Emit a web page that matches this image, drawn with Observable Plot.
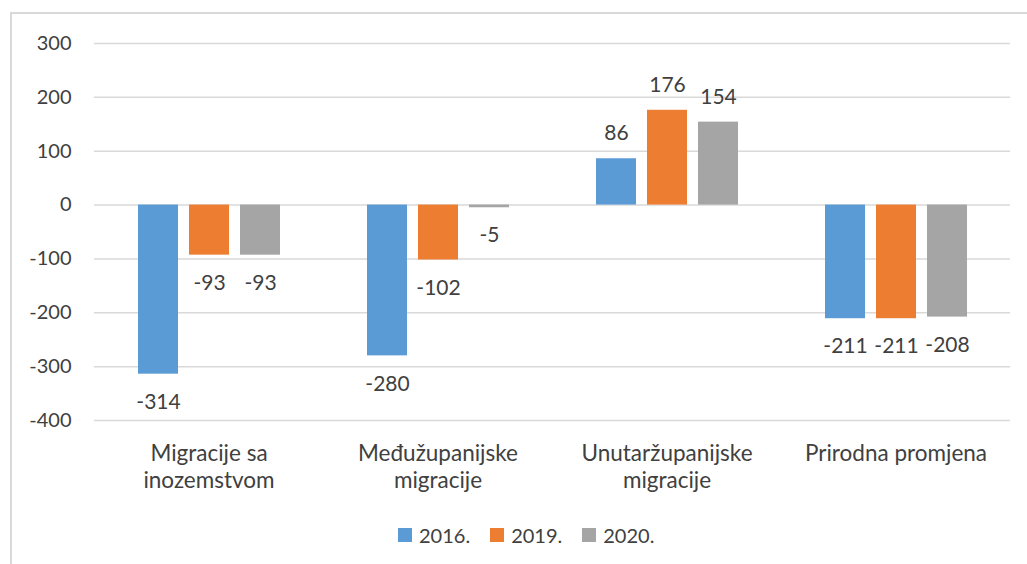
<!DOCTYPE html>
<html>
<head>
<meta charset="utf-8">
<script src="https://cdn.jsdelivr.net/npm/d3@7"></script>
<script src="https://cdn.jsdelivr.net/npm/@observablehq/plot@0.6"></script>
<style>
  html, body { margin: 0; padding: 0; background: #ffffff; }
  body { width: 1027px; height: 564px; position: relative; overflow: hidden; font-family: Lato, sans-serif; }
  #frame { position: absolute; left: 10px; top: 12px; width: 1100px; height: 700px;
           border-left: 2px solid #d9d9d9; border-top: 2px solid #d9d9d9; box-sizing: border-box; }
  #chart { position: absolute; left: 0; top: 0; }
  #legend { position: absolute; left: 398px; top: 520px; height: 30px; display: flex; align-items: center;
            font-size: 20px; color: #404040; }
  .item { display: flex; align-items: center; margin-right: 20px; }
  .sw { width: 14px; height: 14px; margin-right: 7px; }
</style>
</head>
<body>
<div id="frame"></div>
<div id="chart"></div>
<div id="legend"></div>
<script>
const categories = ["Migracije sa inozemstvom", "Međužupanijske migracije", "Unutaržupanijske migracije", "Prirodna promjena"];
const categoryLabels = ["Migracije sa\ninozemstvom", "Međužupanijske\nmigracije", "Unutaržupanijske\nmigracije", "Prirodna promjena"];
const years = ["2016.", "2019.", "2020."];
const values2016 = [-314, -280, 86, -211];
const values2019 = [-93, -102, 176, -211];
const values2020 = [-93, -5, 154, -208];
const colors = ["#5B9BD5", "#ED7D31", "#A5A5A5"];
const yTicks = [300, 200, 100, 0, -100, -200, -300, -400];

const series = [values2016, values2019, values2020];
const data = categories.flatMap((c, i) => years.map((y, j) => ({category: c, year: y, value: series[j][i]})));

const chart = Plot.plot({
  width: 1027,
  height: 510,
  marginLeft: 94,
  marginRight: 17,
  marginTop: 43,
  marginBottom: 90,
  style: {fontFamily: "Lato, sans-serif", color: "#404040", background: "transparent"},
  fx: {domain: categories, padding: 0},
  x: {domain: years, paddingInner: 0.216, paddingOuter: 0.833, axis: null},
  y: {domain: [-400, 300], axis: null},
  color: {domain: years, range: colors},
  marks: [
    Plot.ruleY(yTicks, {stroke: "#d9d9d9", strokeWidth: 1.5}),
    Plot.barY(data, {fx: "category", x: "year", y: "value", fill: "year"}),
    Plot.text(data.filter(d => d.value >= 0), {fx: "category", x: "year", y: "value", text: d => String(d.value), dy: -25, fontSize: 21, fill: "#404040"}),
    Plot.text(data.filter(d => d.value < 0), {fx: "category", x: "year", y: "value", text: d => String(d.value), dy: 28, fontSize: 21, fill: "#404040"}),
    Plot.axisY({ticks: yTicks, tickFormat: d => String(d), tickSize: 0, tickPadding: 23, fontSize: 20, label: null, fill: "#404040"}),
    Plot.axisFx({anchor: "bottom", tickFormat: d => categoryLabels[categories.indexOf(d)], tickSize: 0, tickPadding: 21, fontSize: 22.5, lineHeight: 1.2, label: null, fill: "#404040"})
  ]
});
document.getElementById("chart").appendChild(chart);

const legend = document.getElementById("legend");
years.forEach((y, i) => {
  const item = document.createElement("div");
  item.className = "item";
  const sw = document.createElement("div");
  sw.className = "sw";
  sw.style.background = colors[i];
  const t = document.createElement("span");
  t.textContent = y;
  item.appendChild(sw);
  item.appendChild(t);
  legend.appendChild(item);
});
</script>
</body>
</html>
